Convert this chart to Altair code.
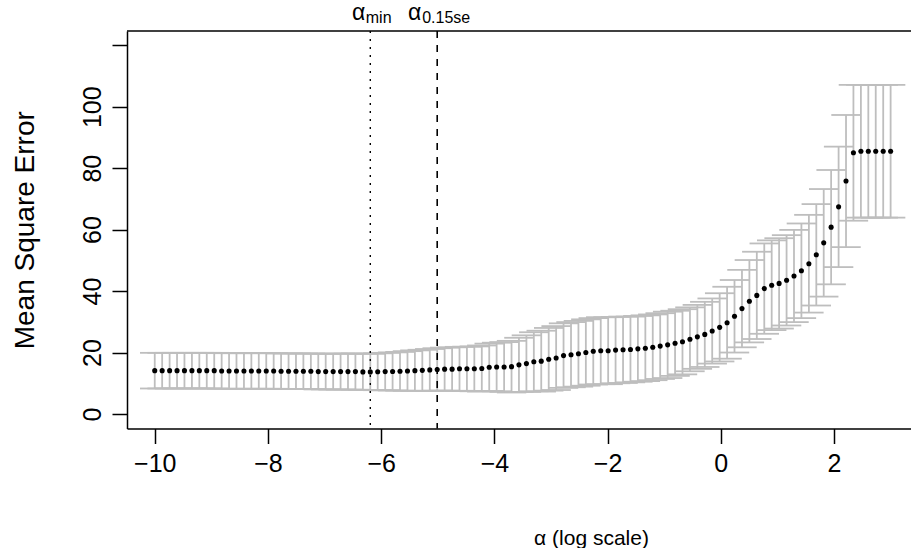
import altair as alt
import pandas as pd

# ---- data ----
log_alpha = [
    -10.000, -9.869, -9.737, -9.606, -9.475, -9.343, -9.212, -9.081, -8.949, -8.818,
    -8.687, -8.556, -8.424, -8.293, -8.162, -8.030, -7.899, -7.768, -7.636, -7.505,
    -7.374, -7.242, -7.111, -6.980, -6.848, -6.717, -6.586, -6.455, -6.323, -6.192,
    -6.061, -5.929, -5.798, -5.667, -5.535, -5.404, -5.273, -5.141, -5.010, -4.879,
    -4.747, -4.616, -4.485, -4.354, -4.222, -4.091, -3.960, -3.828, -3.697, -3.566,
    -3.434, -3.303, -3.172, -3.040, -2.909, -2.778, -2.646, -2.515, -2.384, -2.253,
    -2.121, -1.990, -1.859, -1.727, -1.596, -1.465, -1.333, -1.202, -1.071, -0.939,
    -0.808, -0.677, -0.545, -0.414, -0.283, -0.152, -0.020, 0.111, 0.242, 0.374,
    0.505, 0.636, 0.768, 0.899, 1.030, 1.162, 1.293, 1.424, 1.556, 1.687,
    1.818, 1.949, 2.081, 2.212, 2.343, 2.475, 2.606, 2.737, 2.869, 3.000,
]
mse_mean = [
    14.1, 14.1, 14.1, 14.1, 14.1, 14.1, 14.1, 14.1, 14.1, 14.0,
    14.0, 14.0, 14.0, 14.0, 14.0, 14.0, 14.0, 13.9, 13.9, 13.9,
    13.9, 13.9, 13.8, 13.8, 13.8, 13.8, 13.8, 13.8, 13.7, 13.7,
    13.75, 13.8, 13.85, 13.9, 14.0, 14.1, 14.2, 14.35, 14.5, 14.6,
    14.6, 14.7, 14.7, 14.7, 14.8, 15.2, 15.3, 15.3, 15.4, 16.0,
    16.4, 17.0, 17.2, 17.8, 18.2, 19.0, 19.3, 19.6, 20.0, 20.4,
    20.6, 20.6, 20.8, 20.9, 21.0, 21.2, 21.4, 21.7, 22.1, 22.5,
    23.0, 23.5, 24.3, 25.1, 25.9, 27.0, 28.2, 29.7, 31.8, 34.3,
    36.7, 38.6, 40.8, 41.9, 42.5, 43.5, 44.9, 46.6, 48.9, 51.8,
    55.7, 60.8, 67.4, 75.8, 85.0, 85.5, 85.5, 85.5, 85.5, 85.5,
]
mse_se = [
    5.8, 5.8, 5.8, 5.8, 5.8, 5.8, 5.8, 5.8, 5.8, 5.8,
    5.8, 5.8, 5.8, 5.8, 5.8, 5.8, 5.8, 5.8, 5.8, 5.8,
    5.8, 5.8, 5.8, 5.8, 5.85, 5.85, 5.85, 5.9, 5.9, 5.9,
    6.0, 6.1, 6.2, 6.3, 6.45, 6.6, 6.7, 6.8, 6.9, 7.0,
    7.1, 7.15, 7.2, 7.3, 7.5, 7.7, 7.9, 8.1, 8.4, 8.8,
    9.2, 9.6, 9.9, 10.2, 10.4, 10.5, 10.6, 10.7, 10.8, 10.8,
    10.9, 10.9, 10.8, 10.8, 10.7, 10.7, 10.7, 10.7, 10.7, 10.8,
    10.6, 10.6, 10.4, 10.4, 10.6, 10.6, 11.1, 11.7, 11.8, 12.6,
    13.4, 14.2, 14.7, 14.6, 14.7, 14.7, 15.0, 15.4, 15.9, 16.5,
    17.5, 18.6, 19.6, 21.5, 22.1, 21.6, 21.6, 21.6, 21.6, 21.6,
]
ref_positions = [-6.192, -5.010]            # alpha_min, alpha_0.15se
ref_dashes = [[2, 6], [7, 7]]
ref_main = ["α", "α"]
ref_sub = ["min", "0.15se"]
x_ticks = [-10, -8, -6, -4, -2, 0, 2]
y_ticks = [0, 20, 40, 60, 80, 100, 120]
cap_half_width = 0.26

# ---- layout ----
W, H = 784, 397.5
FONT = "Liberation Sans"
GREY = "#BEBEBE"

df = pd.DataFrame({"x": log_alpha, "m": mse_mean, "se": mse_se})

xs = alt.Scale(domain=[-10.49, 3.36], nice=False, zero=False)
ys = alt.Scale(domain=[-4.72, 124.63], nice=False, zero=False)

x_axis = alt.Axis(
    values=x_ticks, title="α (log scale)", grid=False,
    tickSize=15, tickWidth=1.5, tickColor="black",
    domainColor="black", domainWidth=1.5,
    labelFont=FONT, labelFontSize=25, labelColor="black",
    labelBaseline="alphabetic", labelPadding=28, labelFlush=False,
    titleFont=FONT, titleFontSize=21, titleFontWeight="normal", titleColor="black",
    titleBaseline="alphabetic", titleAlign="center", titleX=464, titleY=116,
)
y_axis = alt.Axis(
    values=y_ticks, title="Mean Square Error", grid=False,
    labelExpr="datum.value == 120 ? '' : datum.label",
    tickSize=15, tickWidth=1.5, tickColor="black",
    domainColor="black", domainWidth=1.5,
    labelFont=FONT, labelFontSize=25, labelColor="black",
    labelAngle=270, labelAlign="center", labelBaseline="alphabetic",
    labelPadding=12, labelFlush=False,
    titleFont=FONT, titleFontSize=28, titleFontWeight="normal", titleColor="black",
    titleAngle=270, titleBaseline="alphabetic", titleAlign="center",
    titleX=-94, titleY=H / 2,
)


def X(field):
    return alt.X(field, type="quantitative", scale=xs, axis=x_axis)


def Y(field):
    return alt.Y(field, type="quantitative", scale=ys, axis=y_axis)


base = alt.Chart(df).transform_calculate(
    lo="datum.m - datum.se",
    hi="datum.m + datum.se",
    xl=f"datum.x - {cap_half_width}",
    xr=f"datum.x + {cap_half_width}",
)

bars = base.mark_rule(color=GREY, strokeWidth=1.8).encode(
    x=X("x"), y=Y("lo"), y2="hi:Q",
)
caps_hi = base.mark_rule(color=GREY, strokeWidth=1.8).encode(
    x=X("xl"), x2="xr:Q", y=Y("hi"),
)
caps_lo = base.mark_rule(color=GREY, strokeWidth=1.8).encode(
    x=X("xl"), x2="xr:Q", y=Y("lo"),
)
points = base.mark_circle(color="black", opacity=1, size=26).encode(
    x=X("x"), y=Y("m"),
)

ref_df = pd.DataFrame({"v": ref_positions, "main": ref_main, "sub": ref_sub})
vline_min = alt.Chart(ref_df.iloc[[0]]).mark_rule(
    color="black", strokeWidth=1.4, strokeDash=ref_dashes[0]
).encode(x=X("v"), y=alt.value(0), y2=alt.value(H))
vline_se = alt.Chart(ref_df.iloc[[1]]).mark_rule(
    color="black", strokeWidth=1.6, strokeDash=ref_dashes[1]
).encode(x=X("v"), y=alt.value(0), y2=alt.value(H))

lab_min_a = alt.Chart(ref_df.iloc[[0]]).mark_text(
    font=FONT, fontSize=23, align="right", baseline="alphabetic", dx=-5, color="black"
).encode(x=X("v"), y=alt.value(-11.5), text="main:N")
lab_min_s = alt.Chart(ref_df.iloc[[0]]).mark_text(
    font=FONT, fontSize=16, align="left", baseline="alphabetic", dx=-4.5, color="black"
).encode(x=X("v"), y=alt.value(-8.5), text="sub:N")
lab_se_a = alt.Chart(ref_df.iloc[[1]]).mark_text(
    font=FONT, fontSize=23, align="right", baseline="alphabetic", dx=-16, color="black"
).encode(x=X("v"), y=alt.value(-11.5), text="main:N")
lab_se_s = alt.Chart(ref_df.iloc[[1]]).mark_text(
    font=FONT, fontSize=16, align="left", baseline="alphabetic", dx=-15, color="black"
).encode(x=X("v"), y=alt.value(-8.5), text="sub:N")

top_border = alt.Chart(pd.DataFrame({"k": [0]})).mark_rule(
    color="black", strokeWidth=1.5
).encode(x=alt.value(0), x2=alt.value(W), y=alt.value(0))

chart = alt.layer(
    bars, caps_hi, caps_lo, points, vline_min, vline_se,
    lab_min_a, lab_min_s, lab_se_a, lab_se_s, top_border,
).properties(
    width=W, height=H,
    padding={"left": 127, "top": 31, "right": 0, "bottom": 119.5},
    autosize=alt.AutoSizeParams(type="none"),
    background="white",
).configure_view(stroke=None)

chart.save("out.html", embed_options={"renderer": "svg", "actions": False})
